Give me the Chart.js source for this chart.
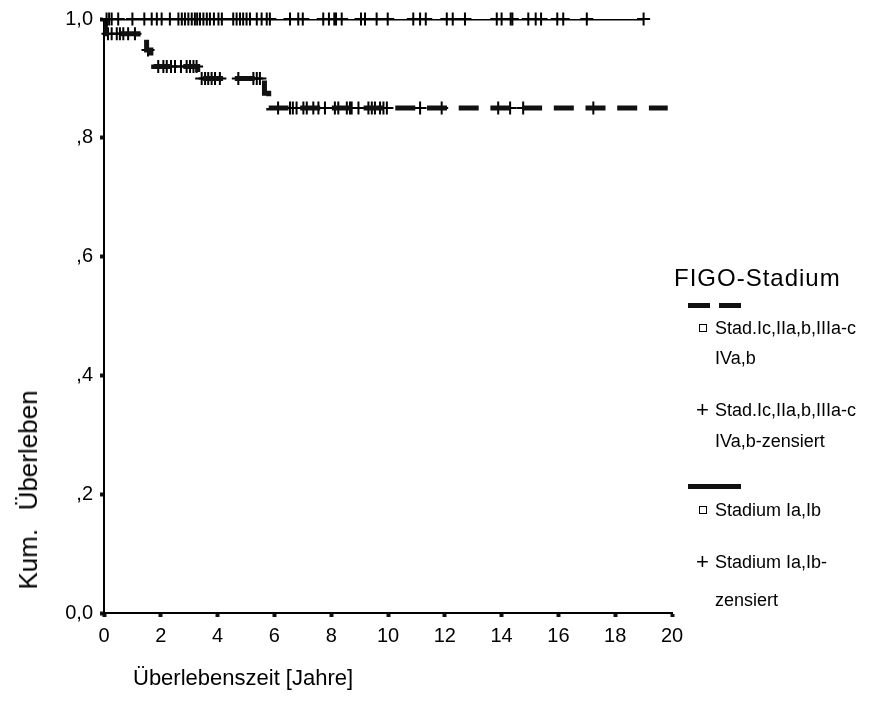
<!DOCTYPE html>
<html>
<head>
<meta charset="utf-8">
<title>Kum. Überleben nach FIGO-Stadium</title>
<script src="https://cdn.jsdelivr.net/npm/chart.js@4.4.3/dist/chart.umd.min.js"></script>
<style>
  html, body { margin: 0; padding: 0; background: #fff; }
  #wrap {
    position: relative; width: 890px; height: 718px; overflow: hidden;
    font-family: "Liberation Sans", Arial, sans-serif; color: #000;
  }
  #km { position: absolute; left: 0; top: 0; }
  .ytitle {
    position: absolute; left: 28px; top: 490px; font-size: 26px; white-space: pre;
    word-spacing: 2px; transform: translate(-50%, -50%) rotate(-90deg); line-height: 1;
  }
  .xtitle { position: absolute; left: 133px; top: 667px; font-size: 22px; white-space: pre; line-height: 1; }
  .lg { position: absolute; white-space: pre; line-height: 1; }
  .lg-title { font-size: 24px; letter-spacing: 1px; }
  .lg-text { font-size: 18px; }
  .lg-box { position: absolute; width: 6px; height: 6px; border: 1.5px solid #000; }
  .lg-plus { position: absolute; font-size: 22px; line-height: 1; }
  .lg-bar { position: absolute; height: 5px; background: #111; }
</style>
</head>
<body>
<div id="wrap">
  <canvas id="km" width="890" height="718"></canvas>
  <div class="ytitle" id="ytitle"></div>
  <div class="xtitle" id="xtitle"></div>
  <div id="legend"></div>
</div>
<script>
// axis texts
const xTitle = "Überlebenszeit [Jahre]";
const yTitle = "Kum.  Überleben";
const xTickLabels = ["0", "2", "4", "6", "8", "10", "12", "14", "16", "18", "20"];
const yTickLabels = ["0,0", ",2", ",4", ",6", ",8", "1,0"];

// Stad.Ic,IIa,b,IIIa-c IVa,b: event times (years) and cumulative survival after each step
const advTimes = [0, 0.05, 1.2, 1.5, 1.65, 1.75, 3.3, 5.65, 5.8, 19.85];
const advSurv = [1, 0.975, 0.965, 0.948, 0.935, 0.92, 0.90, 0.875, 0.85, 0.85];
const advCensored = [
  0.14, 0.27, 0.45, 0.56, 0.68, 0.85, 1.09, 1.55,
  1.91, 2.09, 2.21, 2.36, 2.5, 2.71, 2.91, 3.03, 3.15, 3.26,
  3.44, 3.56, 3.67, 3.79, 3.91, 4.08, 4.73, 5.26, 5.38, 5.49,
  6.13, 6.55, 6.65, 6.78, 7.02, 7.14, 7.37, 7.55, 7.78, 8.13, 8.25, 8.55, 8.66,
  8.72, 8.96, 9.31, 9.43, 9.54, 9.72, 9.84, 9.96, 11.13, 11.89, 13.88, 14.3,
  14.76, 17.23
];

// Stadium Ia,Ib: no events
const earlyTimes = [0, 19.0];
const earlySurv = [1, 1];
const earlyCensored = [
  0.09, 0.18, 0.27, 0.5, 1.0, 1.42, 1.68, 1.86, 2.03, 2.32, 2.62, 2.74, 2.85,
  2.97, 3.09, 3.2, 3.28, 3.38, 3.5, 3.62, 3.73, 3.87, 4.03, 4.15, 4.55, 4.67,
  4.79, 4.9, 5.02, 5.14, 5.38, 5.55, 5.73, 5.84, 6.55, 6.84, 7.0, 7.72, 7.92,
  8.11, 8.17, 8.37, 9.05, 9.19, 9.6, 9.99, 10.89, 11.13, 11.33, 12.07, 12.28,
  12.71, 13.83, 14.0, 14.32, 14.38, 14.94, 15.2, 15.39, 15.96, 16.17, 17.0, 19.0
];

const legendTitle = "FIGO-Stadium";
const legendLabels = [
  ["Stad.Ic,IIa,b,IIIa-c", "IVa,b"],
  ["Stad.Ic,IIa,b,IIIa-c", "IVa,b-zensiert"],
  ["Stadium Ia,Ib"],
  ["Stadium Ia,Ib-", "zensiert"]
];

// survival value in effect at time t (step function)
function survivalAt(times, surv, t) {
  let s = surv[0];
  for (let i = 0; i < times.length; i++) if (times[i] <= t) s = surv[i];
  return s;
}

function curve(times, surv) {
  return times.map((t, i) => ({ x: t, y: surv[i] }));
}

function marks(censored, times, surv) {
  return censored.map((t) => ({ x: t, y: survivalAt(times, surv, t) }));
}

const tickFont = { family: "'Liberation Sans', Arial, sans-serif", size: 20 };

new Chart(document.getElementById("km").getContext("2d"), {
  type: "scatter",
  data: {
    datasets: [
      {
        label: "Stadium Ia,Ib",
        data: curve(earlyTimes, earlySurv),
        showLine: true, stepped: true,
        borderColor: "#000", borderWidth: 3, pointRadius: 0
      },
      {
        label: "Stadium Ia,Ib-zensiert",
        data: marks(earlyCensored, earlyTimes, earlySurv),
        pointStyle: "cross", pointRadius: 6.5, borderWidth: 2,
        borderColor: "#000", clip: false
      },
      {
        label: "Stad.Ic,IIa,b,IIIa-c IVa,b",
        data: curve(advTimes, advSurv),
        showLine: true, stepped: true,
        borderColor: "#111", borderWidth: 5, borderDash: [20, 11.7], pointRadius: 0
      },
      {
        label: "Stad.Ic,IIa,b,IIIa-c IVa,b-zensiert",
        data: marks(advCensored, advTimes, advSurv),
        pointStyle: "cross", pointRadius: 6.5, borderWidth: 2,
        borderColor: "#000", clip: false
      }
    ]
  },
  options: {
    responsive: false,
    animation: false,
    devicePixelRatio: 1,
    layout: { padding: { left: 0, top: 19, right: 218, bottom: 0 } },
    plugins: { legend: { display: false }, tooltip: { enabled: false } },
    scales: {
      x: {
        type: "linear", min: 0, max: 20,
        afterFit: (s) => { s.height = 105; },
        border: { display: true, color: "#000", width: 2 },
        grid: { drawOnChartArea: false, drawTicks: true, tickLength: 4, tickWidth: 4, tickColor: "#111" },
        ticks: {
          stepSize: 2, padding: 7, color: "#000", font: tickFont, maxRotation: 0,
          callback: (v, i) => xTickLabels[i]
        }
      },
      y: {
        type: "linear", min: 0, max: 1,
        afterFit: (s) => { s.width = 104; },
        border: { display: true, color: "#000", width: 2 },
        grid: { drawOnChartArea: false, drawTicks: true, tickLength: 4, tickWidth: 4, tickColor: "#111" },
        ticks: {
          stepSize: 0.2, padding: 7, color: "#000", font: tickFont,
          callback: (v, i) => yTickLabels[i]
        }
      }
    }
  }
});

document.getElementById("xtitle").textContent = xTitle;
document.getElementById("ytitle").textContent = yTitle;

// legend: title, line sample per group, symbol rows
const legend = document.getElementById("legend");
function add(cls, text, left, top, extra) {
  const el = document.createElement("div");
  el.className = cls;
  if (text) el.textContent = text;
  el.style.left = left + "px";
  el.style.top = top + "px";
  if (extra) Object.assign(el.style, extra);
  legend.appendChild(el);
  return el;
}

add("lg lg-title", legendTitle, 674, 266);
// dashed sample
add("lg-bar", "", 688, 303, { width: "22px" });
add("lg-bar", "", 719, 303, { width: "22px" });
// solid sample
add("lg-bar", "", 688, 484, { width: "53px" });

const rowTops = [[319, 349], [401, 432], [501], [553, 591]];
const symbols = ["box", "plus", "box", "plus"];
legendLabels.forEach((lines, k) => {
  const tops = rowTops[k];
  if (symbols[k] === "box") add("lg-box", "", 699, tops[0] + 5);
  else add("lg-plus", "+", 696, tops[0] - 2);
  lines.forEach((line, j) => add("lg lg-text", line, 715, tops[j]));
});
</script>
</body>
</html>
